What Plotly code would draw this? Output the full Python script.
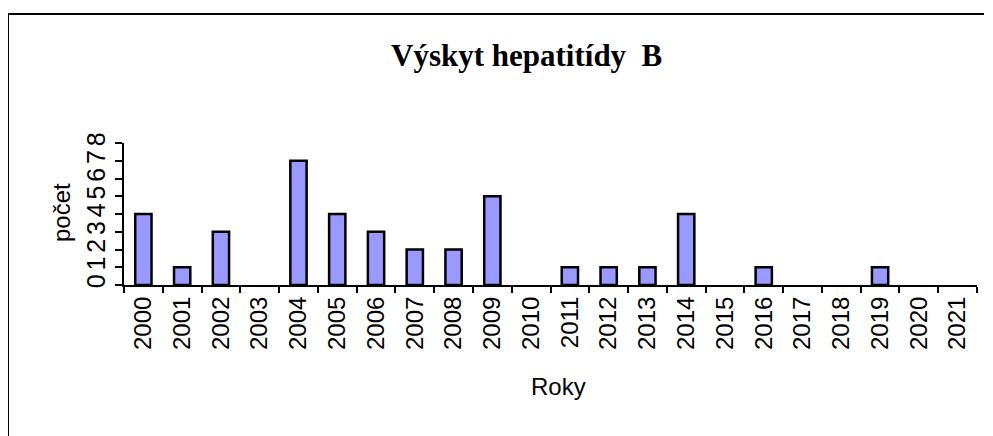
import plotly.graph_objects as go

years = [str(y) for y in range(2000, 2022)]
counts = [4, 1, 3, 0, 7, 4, 3, 2, 2, 5, 0, 1, 1, 1, 4, 0, 1, 0, 0, 1, 0, 0]
y_ticks = [0, 1, 2, 3, 4, 5, 6, 7, 8]
title_text = "Výskyt hepatitídy  B"
x_title = "Roky"
y_title = "počet"

OFF = 8  # default body margin of the html page
W, H = 993 - OFF, 436 - OFF
# plot area in page pixels: x 124..977, y 143..285
L = 124 - OFF
T = 143 - OFF
R = W - (977 - OFF)
B = H - (285 - OFF)
pw, ph = W - L - R, H - T - B

def px(x):
    return (x - OFF - L) / pw

def py(y):
    return (H - B - (y - OFF)) / ph

fig = go.Figure(go.Bar(
    x=years, y=counts, width=0.42,
    marker=dict(color="#9999FF",
                line=dict(color="black", width=[2.5 if v > 0 else 0 for v in counts])),
))

fig.update_layout(
    width=W, height=H,
    margin=dict(l=L, r=R, t=T, b=B, autoexpand=False),
    paper_bgcolor="white", plot_bgcolor="white",
    showlegend=False,
    font=dict(family="Liberation Sans, Arial", color="black", size=24),
    xaxis=dict(
        type="category", tickson="boundaries", ticks="outside", ticklen=6,
        tickwidth=1.5, tickcolor="black", showline=True, linecolor="black",
        linewidth=2, showgrid=False, tickangle=-90, automargin=False,
        tickfont=dict(size=24, family="Liberation Sans, Arial"),
    ),
    yaxis=dict(
        range=[0, 8], tickvals=y_ticks, ticks="outside", ticklen=7,
        tickwidth=2, tickcolor="black", showline=True, linecolor="black",
        linewidth=2, showgrid=False, zeroline=False, tickangle=-90, automargin=False,
        tickfont=dict(size=25, family="Liberation Sans, Arial"),
    ),
    annotations=[
        dict(text="<b>" + title_text + "</b>", xref="paper", yref="paper",
             x=px(526), y=py(56), xanchor="center", yanchor="middle",
             showarrow=False,
             font=dict(family="Liberation Serif, Times New Roman", size=31, color="black")),
        dict(text=y_title, xref="paper", yref="paper", x=px(61), y=py(213),
             xanchor="center", yanchor="middle", textangle=-90, showarrow=False,
             font=dict(size=24)),
        dict(text=x_title, xref="paper", yref="paper", x=px(558), y=py(386),
             xanchor="center", yanchor="middle", showarrow=False,
             font=dict(size=24)),
    ],
    shapes=[
        dict(type="line", xref="paper", yref="paper", x0=px(8), x1=px(8),
             y0=py(14), y1=py(440), line=dict(color="black", width=2)),
        dict(type="line", xref="paper", yref="paper", x0=px(8), x1=px(984),
             y0=py(14), y1=py(14), line=dict(color="black", width=2)),
    ],
)

fig.write_html("out.html")
